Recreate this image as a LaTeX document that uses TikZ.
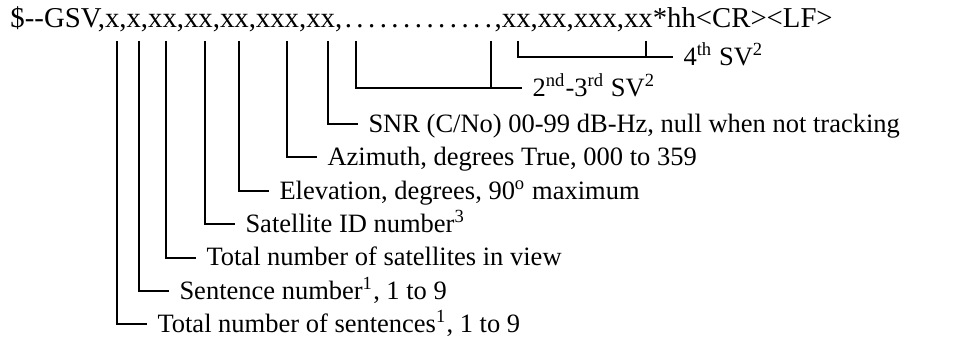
\documentclass[tikz,border=0pt]{standalone}
\usepackage{fontspec}
\setmainfont{Liberation Serif}
\tikzset{>=stealth}
\newcommand{\dotrun}{\hbox to 61pt{\xleaders\hbox to 4.4pt{\hss.\hss}\hfill}}

\begin{document}
\begin{tikzpicture}[x=0.4pt,y=-0.4pt,
    desc/.style={anchor=west, font=\fontsize{10.6}{13}\selectfont, inner xsep=4pt, inner ysep=0pt, text height=0.8em, text depth=0.14em},
    lead/.style={line width=0.8pt}]
    \useasboundingbox (0,0) rectangle (957,339);
    \node[anchor=base west, inner sep=0pt, font=\fontsize{11.5}{14}\selectfont] (hdr) at (10,28)
        {\$-{}-GSV,x,x,xx,xx,xx,xxx,xx,\dotrun,xx,xx,xxx,xx*hh<CR><LF>};
    % field ticks under the header
    \foreach \n/\x in {a/117, b/139, c/166, d/205, e/239, f/287, g/328, h/356, i/491, j/518, k/646}
        \coordinate (\n) at (\x,41);
    % descriptions
    \node[desc] (sv4) at (673,57) {4\textsuperscript{th} SV\textsuperscript{2}};
    \node[desc] (sv23) at (522,88) {2\textsuperscript{nd}-3\textsuperscript{rd} SV\textsuperscript{2}};
    \node[desc] (snr) at (358,124) {SNR (C/No) 00-99 dB-Hz, null when not tracking};
    \node[desc] (azi) at (317,157.4) {Azimuth, degrees True, 000 to 359};
    \node[desc] (elev) at (269,190.8) {Elevation, degrees, 90\textsuperscript{o} maximum};
    \node[desc] (svid) at (235,224.2) {Satellite ID number\textsuperscript{3}};
    \node[desc] (nsat) at (196,257.6) {Total number of satellites in view};
    \node[desc] (snum) at (169,291) {Sentence number\textsuperscript{1}, 1 to 9};
    \node[desc] (nsen) at (147,324.4) {Total number of sentences\textsuperscript{1}, 1 to 9};
    % leaders
    \draw[lead] (a) |- (nsen.west);
    \draw[lead] (b) |- (snum.west);
    \draw[lead] (c) |- (nsat.west);
    \draw[lead] (d) |- (svid.west);
    \draw[lead] (e) |- (elev.west);
    \draw[lead] (f) |- (azi.west);
    \draw[lead] (g) |- (snr.west);
    \draw[lead] (h) |- (sv23.west);
    \draw[lead] (i) -- (i |- sv23.west);
    \draw[lead] (j) |- (sv4.west);
    \draw[lead] (k) -- (k |- sv4.west);
\end{tikzpicture}
\end{document}
